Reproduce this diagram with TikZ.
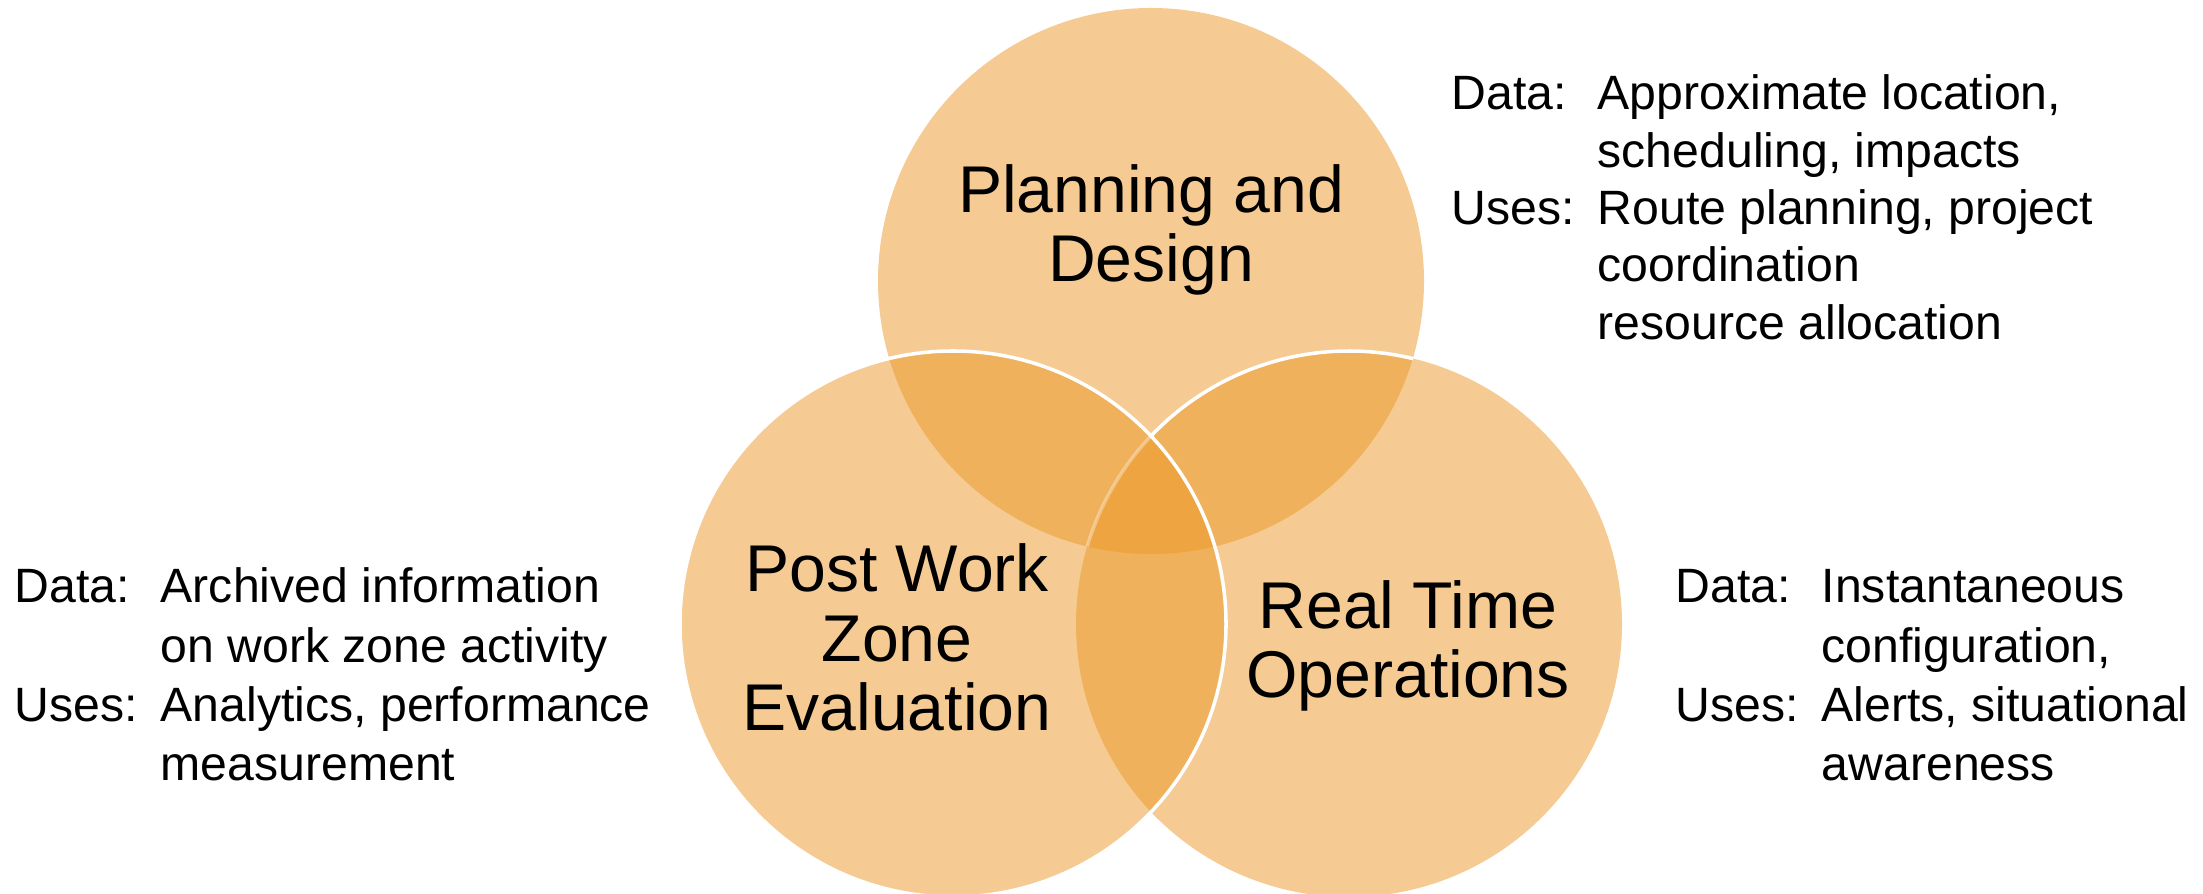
\documentclass[tikz,border=0pt]{standalone}
\usepackage{fontspec}
\setmainfont{Liberation Sans}
\definecolor{vennorange}{RGB}{235,151,39}
\begin{document}
\begin{tikzpicture}[x=0.01cm,y=0.01cm,
  venn/.style={fill=vennorange, fill opacity=0.5},
  rim/.style={draw=white, line width=1pt},
  venntext/.style={align=center, font=\fontsize{18.8}{19.9}\selectfont, anchor=base, inner sep=0pt},
  side/.style={anchor=base west, inner sep=0pt, font=\fontsize{13.7}{16.3}\selectfont},
  sidewide/.style={side, font=\fontsize{13.7}{16.8}\selectfont}]
\useasboundingbox (0,0) rectangle (2203,894);
\coordinate (T) at (1151,613);
\coordinate (L) at (953,270);
\coordinate (R) at (1349,270);
\fill[venn] (T) circle (273);
\fill[venn] (R) circle (273);
\fill[venn] (L) circle (273);
\draw[rim] (L) circle (273);
\draw[rim] (R) ++(76.4:273) arc[start angle=76.4, end angle=136.5, radius=273];
\draw[rim, draw opacity=0.35] (R) ++(136.5:273) arc[start angle=136.5, end angle=163.5, radius=273];
\node[venntext] (pd) at (1151,612) {Planning and\\Design};
\node[venntext] (pw) at (897,163) {Post Work\\Zone\\Evaluation};
\node[venntext] (rt) at (1408,196) {Real Time\\Operations};
\node[side] (tr) at (1451,784) {\begin{tabular}[t]{@{}p{1.46cm}@{}l@{}}Data: & Approximate location,\\ & scheduling, impacts\\ Uses: & Route planning, project\\ & coordination\\ & resource allocation\end{tabular}};
\node[sidewide] (lf) at (14,291) {\begin{tabular}[t]{@{}p{1.46cm}@{}l@{}}Data: & Archived information\\ & on work zone activity\\ Uses: & Analytics, performance\\ & measurement\end{tabular}};
\node[sidewide] (rg) at (1675,291) {\begin{tabular}[t]{@{}p{1.46cm}@{}l@{}}Data: & Instantaneous\\ & configuration,\\ Uses: & Alerts, situational\\ & awareness\end{tabular}};
\end{tikzpicture}
\end{document}
